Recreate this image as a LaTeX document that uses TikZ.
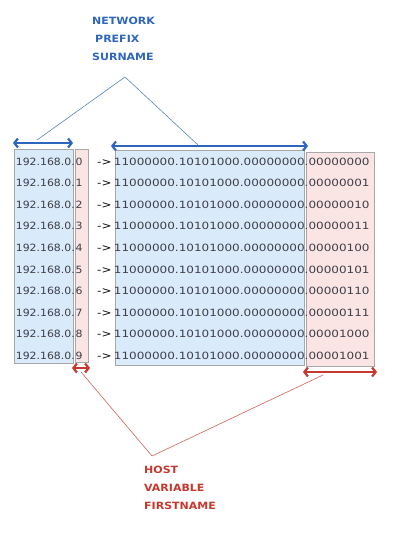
\documentclass[tikz,border=0pt]{standalone}
\usepackage{fontspec}
\setmainfont{DejaVu Sans}[FakeStretch=1.2]
\newfontfamily\lblfont{DejaVu Sans}[FakeStretch=1.1]
\newfontfamily\ipfont{DejaVu Sans}[FakeStretch=1.09]
\usetikzlibrary{arrows.meta}
\definecolor{bluefill}{HTML}{D9EAFB}
\definecolor{pinkfill}{HTML}{FAE4E4}
\definecolor{boxline}{HTML}{A8A8A8}
\definecolor{txt}{HTML}{3E3E48}
\definecolor{netblue}{HTML}{2F66BD}
\definecolor{hostred}{HTML}{C7392E}
\tikzset{
  bluebox/.style={draw=boxline, fill=bluefill, line width=0.7pt},
  pinkbox/.style={draw=boxline, fill=pinkfill, line width=0.7pt},
  numtxt/.style={font=\fontsize{10}{10}\selectfont, text=txt, inner sep=0pt},
  iptxt/.style={font=\ipfont\fontsize{10}{10}\selectfont, text=txt, inner sep=0pt},
  lbl/.style={font=\lblfont\bfseries\fontsize{10}{18}\selectfont, align=left, inner sep=0pt, anchor=north west},
  bracearrow/.style={line width=2.4pt, line cap=round, {Straight Barb[length=3.5pt,width=9pt,line width=2.2pt]}-{Straight Barb[length=3.5pt,width=9pt,line width=2.2pt]}},
  thinlink/.style={line width=0.6pt}
}
\begin{document}
\begin{tikzpicture}[x=1pt,y=-1pt]
\useasboundingbox (0,0) rectangle (404,535);
% boxes
\draw[bluebox] (14,149) rectangle (73,363);
\draw[pinkbox] (75,149) rectangle (88,362);
\draw[bluebox] (115,150) rectangle (304,365);
\draw[pinkbox] (306,152) rectangle (374,366);
% rows
\foreach \i/\b in {0/00000000,1/00000001,2/00000010,3/00000011,4/00000100,5/00000101,6/00000110,7/00000111,8/00001000,9/00001001}{
  \pgfmathsetmacro{\yy}{165+21.6*\i}
  \node[iptxt, anchor=base east] (ipa\i) at (75,\yy) {192.168.0.};
  \node[iptxt, anchor=base west] (ipb\i) at (75.5,\yy) {\i};
  \node[numtxt, anchor=base west, text=black] (arr\i) at (97,\yy) {->};
  \node[numtxt, anchor=base east] (bina\i) at (305,\yy) {11000000.10101000.00000000};
  \node[numtxt, anchor=base west] (binb\i) at (304.5,\yy) {.\b};
}
% network label and arrows
\node[lbl, text=netblue] (net) at (92,17) {NETWORK\\\hspace*{3pt}PREFIX\\SURNAME};
\coordinate (napex) at (125,77);
\coordinate (nl) at (13,143);
\coordinate (nr) at (73,143);
\coordinate (bl) at (111,146);
\coordinate (br) at (308,146);
\draw[netblue, bracearrow] (nl) -- (nr);
\draw[netblue, bracearrow] (bl) -- (br);
\coordinate (nls) at (37,140);
\coordinate (nrs) at (198,145);
\draw[netblue!80, thinlink] (nls) -- (napex) -- (nrs);
% host label and arrows
\coordinate (hl) at (72,368);
\coordinate (hr) at (90,368);
\coordinate (hbl) at (303,372);
\coordinate (hbr) at (377,372);
\draw[hostred, bracearrow] (hl) -- (hr);
\draw[hostred, bracearrow] (hbl) -- (hbr);
\coordinate (hapex) at (152,456);
\coordinate (hls) at (81,372);
\coordinate (hrs) at (323,375);
\draw[hostred!80, thinlink] (hls) -- (hapex) -- (hrs);
\node[lbl, text=hostred] (host) at (144,466) {HOST\\VARIABLE\\FIRSTNAME};
\end{tikzpicture}
\end{document}
